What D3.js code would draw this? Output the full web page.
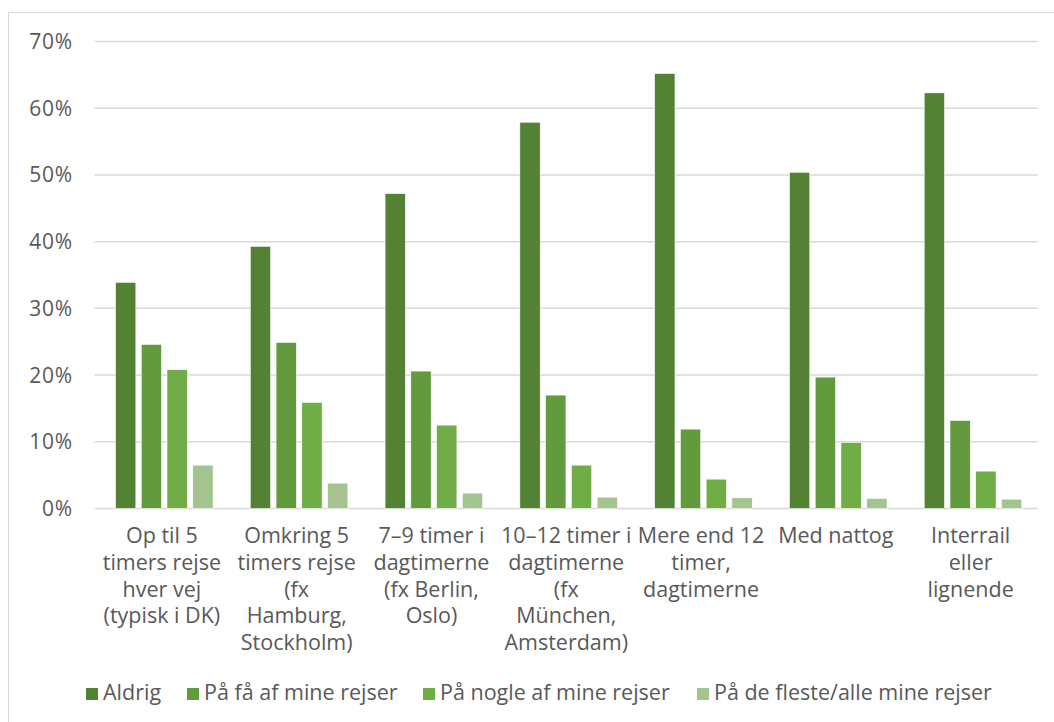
<!DOCTYPE html>
<html>
<head>
<meta charset="utf-8">
<script src="https://cdn.jsdelivr.net/npm/d3@7"></script>
<style>
  body { margin: 0; background: #fff; }
  svg { display: block; font-family: "Open Sans", Lato, sans-serif; }
</style>
</head>
<body>
<div id="chart"></div>
<script>
const width = 1054;
const height = 722;

// Categories (label lines as they wrap in the original)
const categories = [
  ['Op til 5', 'timers rejse', 'hver vej', '(typisk i DK)'],
  ['Omkring 5', 'timers rejse', '(fx', 'Hamburg,', 'Stockholm)'],
  ['7–9 timer i', 'dagtimerne', '(fx Berlin,', 'Oslo)'],
  ['10–12 timer i', 'dagtimerne', '(fx', 'München,', 'Amsterdam)'],
  ['Mere end 12', 'timer,', 'dagtimerne'],
  ['Med nattog'],
  ['Interrail', 'eller', 'lignende']
];

const seriesNames = ['Aldrig', 'På få af mine rejser', 'På nogle af mine rejser', 'På de fleste/alle mine rejser'];

// values in percent, one array per series
const aldrig = [33.9, 39.3, 47.2, 57.9, 65.2, 50.4, 62.3];
const paaFaa = [24.6, 24.9, 20.6, 17.0, 11.9, 19.7, 13.2];
const paaNogle = [20.8, 15.9, 12.5, 6.5, 4.4, 9.9, 5.6];
const paaFleste = [6.5, 3.8, 2.3, 1.7, 1.6, 1.5, 1.4];

const yTicks = [0, 10, 20, 30, 40, 50, 60, 70];
const colors = ['#548235', '#639a3e', '#70ad47', '#a3c48f'];

const seriesValues = [aldrig, paaFaa, paaNogle, paaFleste];

const svg = d3
  .select('#chart')
  .append('svg')
  .attr('width', width)
  .attr('height', height);

// chart area border (only top and left edges are visible in the frame)
svg.append('path')
  .attr('d', 'M8.5,' + height + 'V12.5H' + width)
  .attr('fill', 'none')
  .attr('stroke', '#d9d9d9')
  .attr('stroke-width', 1);

const plotLeft = 94.5;
const plotRight = 1038;
const plotTop = 41.5;
const plotBottom = 508.5;

const xScale = d3.scaleBand()
  .domain(d3.range(categories.length))
  .range([plotLeft, plotRight])
  .paddingInner(0)
  .paddingOuter(0);

const xInner = d3.scaleBand()
  .domain(d3.range(seriesNames.length))
  .range([21, 21 + 4 * 24.4])
  .paddingInner(0.21)
  .paddingOuter(0);

const yScale = d3.scaleLinear().domain([0, 70]).range([plotBottom, plotTop]);

// gridlines
svg.append('g')
  .selectAll('line')
  .data(yTicks)
  .enter()
  .append('line')
  .attr('x1', plotLeft)
  .attr('x2', plotRight)
  .attr('y1', (d) => yScale(d))
  .attr('y2', (d) => yScale(d))
  .attr('stroke', '#d9d9d9')
  .attr('stroke-width', 1.5);

// y axis labels
svg.append('g')
  .selectAll('text')
  .data(yTicks)
  .enter()
  .append('text')
  .attr('x', 73)
  .attr('y', (d) => yScale(d) + 7.5)
  .attr('text-anchor', 'end')
  .attr('fill', '#595959')
  .attr('font-size', 21)
  .attr('letter-spacing', 0.8)
  .text((d) => d + '%');

// bars
const groups = svg.append('g')
  .selectAll('g')
  .data(categories.map((c, i) => i))
  .enter()
  .append('g')
  .attr('transform', (i) => `translate(${xScale(i)},0)`);

groups
  .selectAll('rect')
  .data((i) => seriesValues.map((vals, s) => ({ s: s, v: vals[i] })))
  .enter()
  .append('rect')
  .attr('x', (d) => xInner(d.s))
  .attr('width', xInner.bandwidth())
  .attr('y', (d) => yScale(d.v))
  .attr('height', (d) => plotBottom - yScale(d.v))
  .attr('fill', (d) => colors[d.s])
  .attr('stroke', '#ffffff')
  .attr('stroke-width', 0.6);

// category labels
const catLabels = svg.append('g')
  .selectAll('text')
  .data(categories)
  .enter()
  .append('text')
  .attr('x', (d, i) => xScale(i) + xScale.bandwidth() / 2)
  .attr('y', 543)
  .attr('text-anchor', 'middle')
  .attr('fill', '#595959')
  .attr('font-size', 21.5);

catLabels
  .selectAll('tspan')
  .data((d) => d)
  .enter()
  .append('tspan')
  .attr('x', function () { return this.parentNode.getAttribute('x'); })
  .attr('dy', (d, j) => (j === 0 ? 0 : 26.8))
  .text((d) => d);

// legend
const legendX = [86, 187, 423, 697];
const legend = svg.append('g')
  .selectAll('g')
  .data(seriesNames)
  .enter()
  .append('g')
  .attr('transform', (d, i) => `translate(${legendX[i]},688)`);

legend.append('rect')
  .attr('width', 12)
  .attr('height', 12)
  .attr('fill', (d, i) => colors[i]);

legend.append('text')
  .attr('x', 17)
  .attr('y', 11.5)
  .attr('fill', '#595959')
  .attr('font-size', 21.5)
  .text((d) => d);
</script>
</body>
</html>
